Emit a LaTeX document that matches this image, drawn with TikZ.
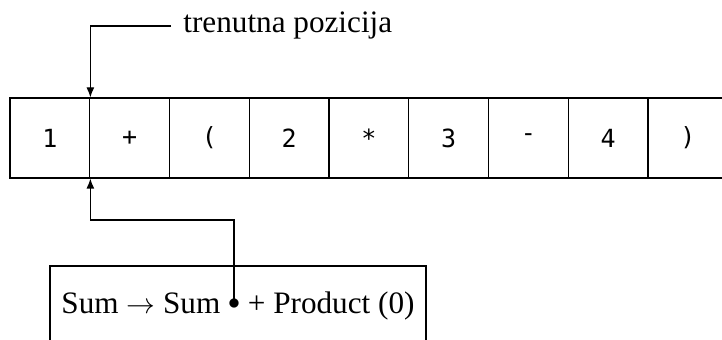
\documentclass[tikz,border=0pt]{standalone}
\usepackage{fontspec}
\setmainfont{Liberation Serif}
\newfontfamily\cellfont{DejaVu Sans Mono}
\usetikzlibrary{arrows.meta}

\tikzset{
  cell/.style={draw,line width=0.6pt,minimum width=39.875pt,minimum height=40pt,
    inner sep=0pt,font=\cellfont\fontsize{12.5}{15}\selectfont},
  pointer/.style={line width=0.6pt,-{Latex[length=5pt,width=4pt]}},
  bigtext/.style={font=\fontsize{15.6}{19}\selectfont}
}

\begin{document}
\begin{tikzpicture}[x=0.5pt,y=0.5pt]
  \useasboundingbox (0,0) rectangle (722,340);
  % the input tokens
  \node (c1) at (49.9,202) [cell] {1};
  \node (c2) at (129.6,202) [cell] {+};
  \node (c3) at (209.4,202) [cell] {(};
  \node (c4) at (289.1,202) [cell] {2};
  \node (c5) at (368.9,202) [cell] {*};
  \node (c6) at (448.6,202) [cell] {3};
  \node (c7) at (528.4,202) [cell] {-};
  \node (c8) at (608.1,202) [cell] {4};
  \node (c9) at (687.9,202) [cell] {)};
  % current position
  \node (pos) at (183,307) [anchor=base west,inner sep=0pt,bigtext] {trenutna pozicija};
  \coordinate (posln) at (171,314);
  \draw[pointer] (posln) -| (c1.north east);
  % the item
  \node (rule) at (238,26) [draw,line width=0.6pt,anchor=base,inner ysep=0pt,
    text height=24pt,text depth=30pt,minimum width=188pt,bigtext]
    {Sum $\rightarrow$ Sum \raisebox{2.2pt}{\fontsize{12}{14}\selectfont$\bullet$} + Product (0)};
  \coordinate (dot) at (234,40);
  \coordinate (bend) at (234,120);
  \draw[pointer] (dot) -- (bend) -| (c1.south east);
\end{tikzpicture}
\end{document}
